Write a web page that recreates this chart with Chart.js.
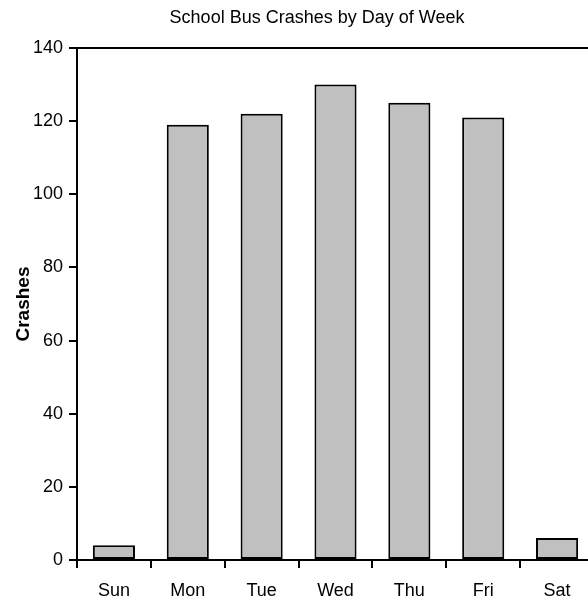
<!DOCTYPE html>
<html lang="en">
<head>
    <meta charset="UTF-8">
    <title>School Bus Crashes by Day of Week</title>
    <style>
        html, body {
            margin: 0;
            padding: 0;
            background: #fff;
            overflow: hidden;
        }
    </style>
</head>
<body>
    <canvas id="busChart" width="596" height="600"></canvas>

    <script src="https://cdn.jsdelivr.net/npm/chart.js"></script>
    <script>
        // data
        const days = ['Sun', 'Mon', 'Tue', 'Wed', 'Thu', 'Fri', 'Sat'];
        const crashes = [4, 119, 122, 130, 125, 121, 6];
        const yTicks = [0, 20, 40, 60, 80, 100, 120, 140];

        const FONT = "'Liberation Sans', Arial, sans-serif";

        // title and top frame line, Excel style
        const framePlugin = {
            id: 'frame',
            afterDraw(chart) {
                const { ctx, chartArea } = chart;
                ctx.save();
                ctx.strokeStyle = '#000';
                ctx.lineWidth = 2;
                ctx.beginPath();
                ctx.moveTo(chartArea.left, chartArea.top);
                ctx.lineTo(chartArea.right, chartArea.top);
                ctx.stroke();

                ctx.fillStyle = '#000';
                ctx.font = '18px ' + FONT;
                ctx.textAlign = 'center';
                ctx.textBaseline = 'middle';
                ctx.fillText('School Bus Crashes by Day of Week', 317, 18);
                ctx.restore();
            }
        };

        const ctx = document.getElementById('busChart').getContext('2d');
        new Chart(ctx, {
            type: 'bar',
            data: {
                labels: days,
                datasets: [{
                    label: 'Crashes',
                    data: crashes,
                    backgroundColor: '#c0c0c0',
                    borderColor: '#000',
                    borderWidth: 2,
                    borderSkipped: false,
                    categoryPercentage: 1,
                    barPercentage: 0.57
                }]
            },
            options: {
                responsive: false,
                animation: false,
                layout: { padding: { top: 48, right: 2, left: 0, bottom: 0 } },
                plugins: {
                    legend: { display: false },
                    tooltip: { enabled: false },
                    title: { display: false }
                },
                scales: {
                    x: {
                        grid: {
                            offset: true,
                            drawOnChartArea: false,
                            color: '#000',
                            lineWidth: 2,
                            tickLength: 8
                        },
                        border: { color: '#000', width: 2 },
                        ticks: {
                            color: '#000',
                            font: { family: FONT, size: 18 },
                            padding: 12,
                            maxRotation: 0
                        },
                        afterFit(scale) { scale.height = 40; }
                    },
                    y: {
                        min: 0,
                        max: 140,
                        afterBuildTicks(scale) {
                            scale.ticks = yTicks.map(v => ({ value: v }));
                        },
                        grid: {
                            drawOnChartArea: false,
                            color: '#000',
                            lineWidth: 2,
                            tickLength: 8
                        },
                        border: { color: '#000', width: 2 },
                        ticks: {
                            color: '#000',
                            font: { family: FONT, size: 18 },
                            padding: 6
                        },
                        title: {
                            display: true,
                            text: 'Crashes',
                            color: '#000',
                            font: { family: FONT, size: 19, weight: 'bold' },
                            padding: { top: 12, bottom: 0 }
                        },
                        afterFit(scale) { scale.width = 77; }
                    }
                }
            },
            plugins: [framePlugin]
        });
    </script>
</body>
</html>
